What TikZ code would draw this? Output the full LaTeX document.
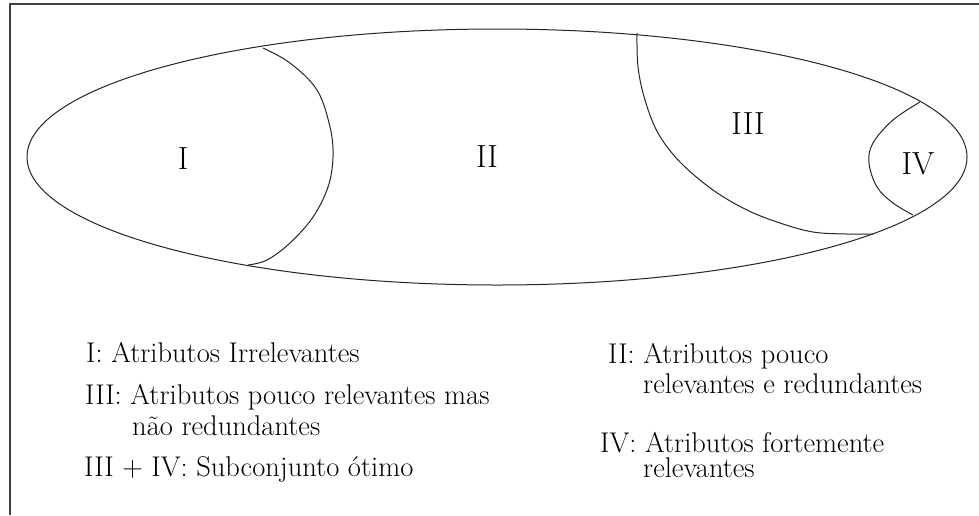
\documentclass[tikz,border=0pt]{standalone}
\usepackage{tikz}

\begin{document}
\begin{tikzpicture}[
    x=1pt, y=-1pt,
    frame/.style={draw=black!75, line width=1.3pt},
    curve/.style={draw=black!85, line width=1pt},
    region/.style={inner sep=0pt, font=\fontsize{32}{36}\selectfont},
    legend/.style={inner sep=0pt, anchor=base west, align=left, font=\fontsize{28.5}{31}\selectfont}
  ]
    \useasboundingbox (0,0) rectangle (979,515);
    \fill[white] (0,0) rectangle (979,515);

    % frame (only top and left edges are in view)
    \draw[frame] (979,4) -- (10,4) -- (10,515);

    % outer set
    \draw[curve] (497,157) ellipse [x radius=470pt, y radius=128pt];

    % boundary between I and II
    \draw[curve] plot[smooth, tension=0.6] coordinates {
      (263,48) (290,63) (317,90) (330,127) (333,157) (328,187)
      (313,217) (290,243) (267,260) (248,265)};

    % boundary of III
    \draw[curve] plot[smooth, tension=0.6] coordinates {
      (637,33) (638,67) (645,100) (658,133) (680,162) (713,190)
      (747,210) (780,223) (813,232) (847,234) (873,234)};

    % boundary of IV
    \draw[curve] plot[smooth, tension=0.6] coordinates {
      (920,102) (893,120) (873,143) (869,163) (877,187) (893,203) (913,215)};

    % region labels
    \node[region] (rI)   at (183,159) {I};
    \node[region] (rII)  at (487,157) {II};
    \node[region] (rIII) at (748,124) {III};
    \node[region] (rIV)  at (918,164) {IV};

    % legend (base = baseline of the last line)
    \node[legend] (legI)   at (86,362) {I: Atributos Irrelevantes};
    \node[legend] (legIII) at (85,435) {III: Atributos pouco relevantes mas\\
                                        \hspace*{47pt}não redundantes};
    \node[legend] (legopt) at (84,476) {III + IV: Subconjunto ótimo};
    \node[legend] (legII)  at (608,393) {II: Atributos pouco\\[-1pt]
                                         \hspace*{35pt}relevantes e redundantes};
    \node[legend] (legIV)  at (600,477) {IV: Atributos fortemente\\[-6pt]
                                         \hspace*{43pt}relevantes};
  \end{tikzpicture}
\end{document}
